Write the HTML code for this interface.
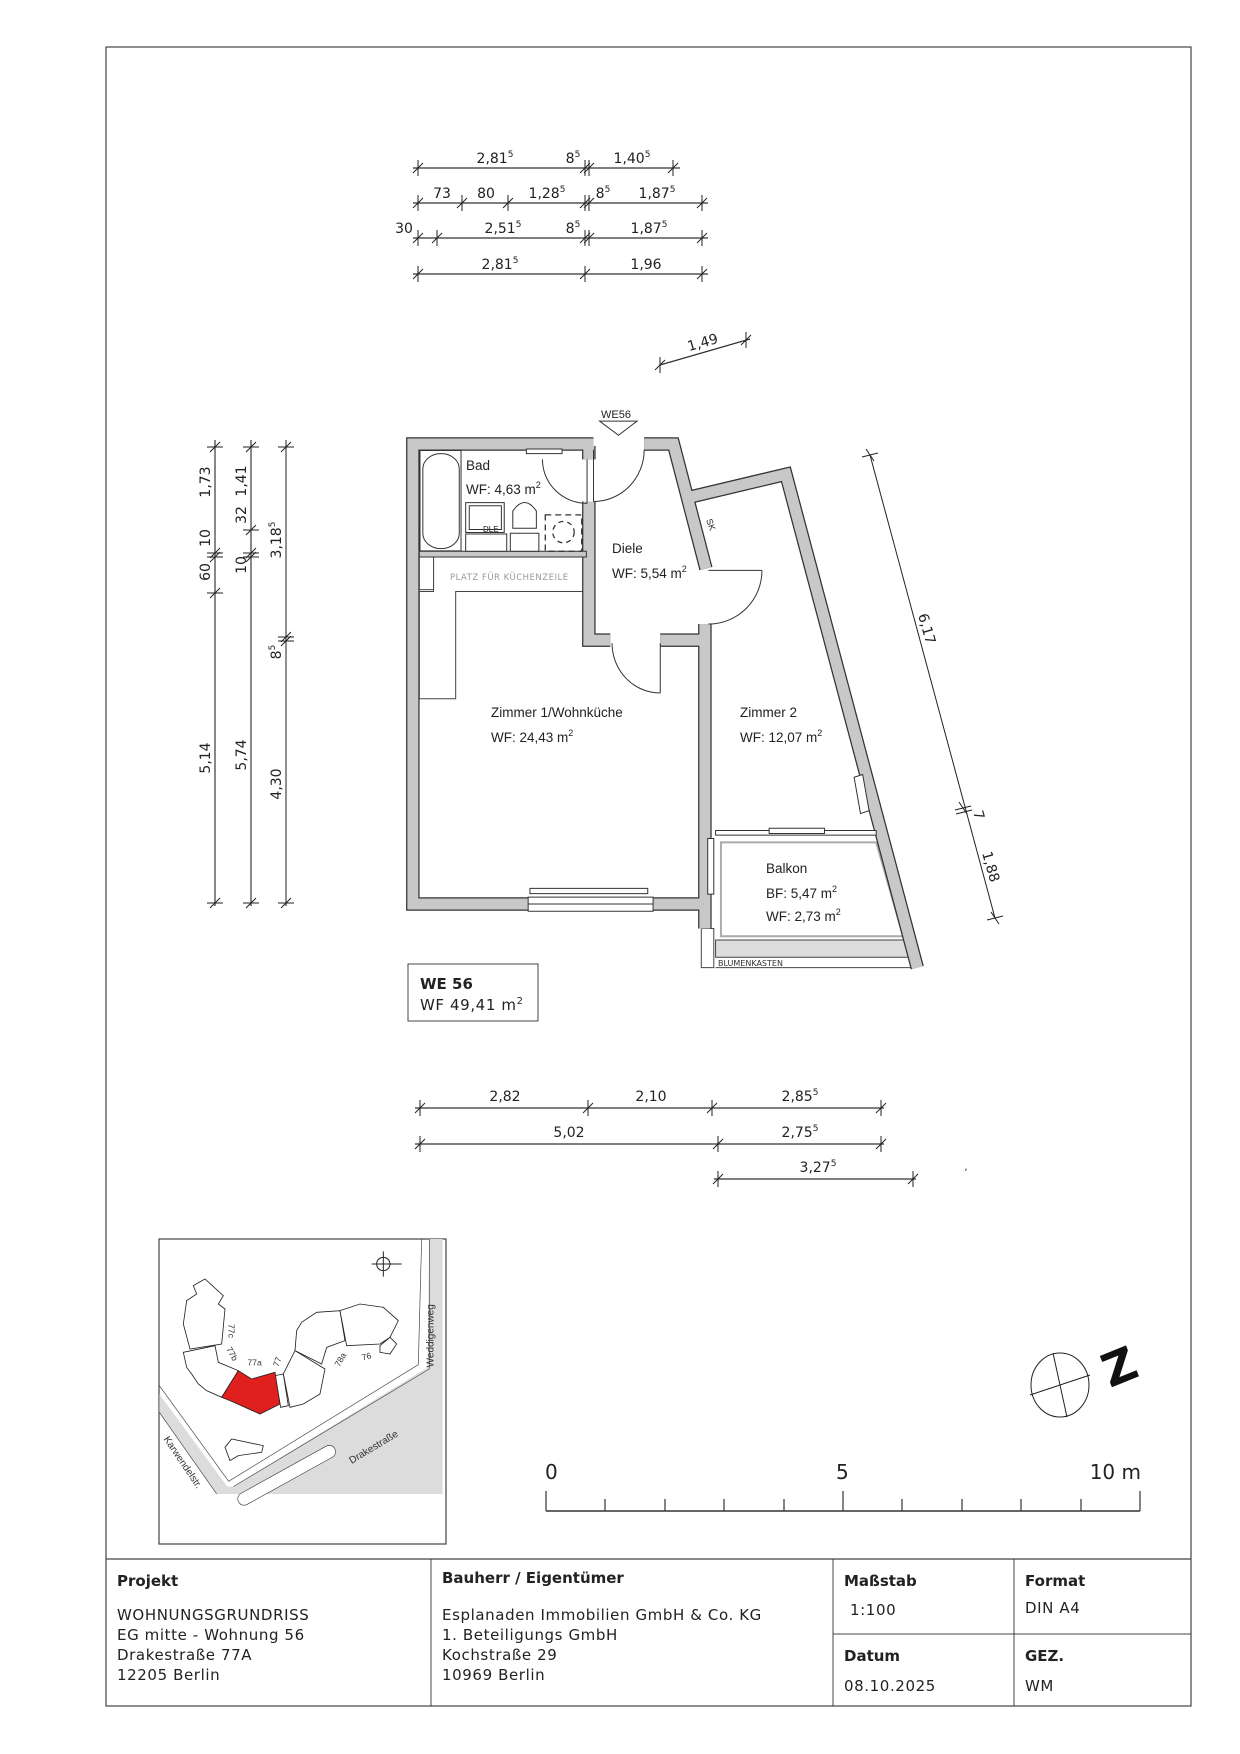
<!DOCTYPE html>
<html><head><meta charset="utf-8"><style>
html,body{margin:0;padding:0;background:#fff}
svg{display:block}
.d{font-family:"DejaVu Sans","Liberation Sans",sans-serif;font-size:14px;fill:#222}
.p{font-family:"Liberation Sans",sans-serif;font-size:13.5px;fill:#222}
.t{font-family:"DejaVu Sans","Liberation Sans",sans-serif;font-size:15px;fill:#222;letter-spacing:0.6px}
.tb{font-family:"DejaVu Sans","Liberation Sans",sans-serif;font-size:15px;font-weight:bold;fill:#222}
</style></head><body>
<svg width="1240" height="1754" viewBox="0 0 1240 1754" xmlns="http://www.w3.org/2000/svg">
<defs>
<g id="th" stroke="#222" stroke-width="1"><line x1="0" y1="-8" x2="0" y2="8"/><line x1="-5" y1="5" x2="5" y2="-5"/></g>
<g id="tv" stroke="#222" stroke-width="1"><line x1="-8" y1="0" x2="8" y2="0"/><line x1="-5" y1="5" x2="5" y2="-5"/></g>
</defs>

<rect x="106" y="47" width="1085" height="1659" fill="none" stroke="#444" stroke-width="1.2"/>
<line x1="106" y1="1559" x2="1191" y2="1559" stroke="#444" stroke-width="1.2"/>
<line x1="431" y1="1559" x2="431" y2="1706" stroke="#444"/>
<line x1="833" y1="1559" x2="833" y2="1706" stroke="#444"/>
<line x1="1014" y1="1559" x2="1014" y2="1706" stroke="#444"/>
<line x1="833" y1="1634" x2="1191" y2="1634" stroke="#444"/>

<text class="tb" x="117" y="1586">Projekt</text>
<text class="t" x="117" y="1620">WOHNUNGSGRUNDRISS</text>
<text class="t" x="117" y="1640">EG mitte - Wohnung 56</text>
<text class="t" x="117" y="1660">Drakestraße 77A</text>
<text class="t" x="117" y="1680">12205 Berlin</text>
<text class="tb" x="442" y="1583">Bauherr / Eigentümer</text>
<text class="t" x="442" y="1620">Esplanaden Immobilien GmbH &amp; Co. KG</text>
<text class="t" x="442" y="1640">1. Beteiligungs GmbH</text>
<text class="t" x="442" y="1660">Kochstraße 29</text>
<text class="t" x="442" y="1680">10969 Berlin</text>
<text class="tb" x="844" y="1586">Maßstab</text>
<text class="t" x="850" y="1615">1:100</text>
<text class="tb" x="1025" y="1586">Format</text>
<text class="t" x="1025" y="1613">DIN A4</text>
<text class="tb" x="844" y="1661">Datum</text>
<text class="t" x="844" y="1691">08.10.2025</text>
<text class="tb" x="1025" y="1661">GEZ.</text>
<text class="t" x="1025" y="1691">WM</text>

<g stroke="#333" stroke-width="1.2">
<line x1="413" y1="168" x2="680" y2="168"/>
<line x1="413" y1="203" x2="708" y2="203"/>
<line x1="413" y1="238" x2="708" y2="238"/>
<line x1="413" y1="274" x2="708" y2="274"/>
<line x1="660" y1="365" x2="750" y2="339"/>
</g>
<use href="#th" x="418" y="168"/><use href="#th" x="585" y="168"/><use href="#th" x="589" y="168"/><use href="#th" x="673" y="168"/>
<use href="#th" x="418" y="203"/><use href="#th" x="462" y="203"/><use href="#th" x="508" y="203"/><use href="#th" x="585" y="203"/><use href="#th" x="589" y="203"/><use href="#th" x="702" y="203"/>
<use href="#th" x="418" y="238"/><use href="#th" x="437" y="238"/><use href="#th" x="585" y="238"/><use href="#th" x="589" y="238"/><use href="#th" x="702" y="238"/>
<use href="#th" x="418" y="274"/><use href="#th" x="585" y="274"/><use href="#th" x="702" y="274"/>
<use href="#th" x="660" y="365"/><use href="#th" x="746" y="340"/>
<g class="d" text-anchor="middle" font-size="15">
<text x="495" y="163">2,81<tspan font-size="9" dy="-6">5</tspan></text>
<text x="573" y="163">8<tspan font-size="9" dy="-6">5</tspan></text>
<text x="632" y="163">1,40<tspan font-size="9" dy="-6">5</tspan></text>
<text x="442" y="198">73</text>
<text x="486" y="198">80</text>
<text x="547" y="198">1,28<tspan font-size="9" dy="-6">5</tspan></text>
<text x="603" y="198">8<tspan font-size="9" dy="-6">5</tspan></text>
<text x="657" y="198">1,87<tspan font-size="9" dy="-6">5</tspan></text>
<text x="404" y="233">30</text>
<text x="503" y="233">2,51<tspan font-size="9" dy="-6">5</tspan></text>
<text x="573" y="233">8<tspan font-size="9" dy="-6">5</tspan></text>
<text x="649" y="233">1,87<tspan font-size="9" dy="-6">5</tspan></text>
<text x="500" y="269">2,81<tspan font-size="9" dy="-6">5</tspan></text>
<text x="646" y="269">1,96</text>
<text x="0" y="0" transform="translate(704,347) rotate(-16)">1,49</text>
</g>

<g stroke="#555" stroke-width="1.4">
<line x1="215" y1="440" x2="215" y2="906"/>
<line x1="251" y1="440" x2="251" y2="906"/>
<line x1="286" y1="440" x2="286" y2="906" stroke="#222" stroke-width="1"/>
</g>
<use href="#tv" x="215" y="447"/><use href="#tv" x="215" y="553"/><use href="#tv" x="215" y="557"/><use href="#tv" x="215" y="593"/><use href="#tv" x="215" y="903"/>
<use href="#tv" x="251" y="447"/><use href="#tv" x="251" y="530"/><use href="#tv" x="251" y="553"/><use href="#tv" x="251" y="557"/><use href="#tv" x="251" y="903"/>
<use href="#tv" x="286" y="447"/><use href="#tv" x="286" y="637"/><use href="#tv" x="286" y="641"/><use href="#tv" x="286" y="903"/>
<g class="d" text-anchor="middle" font-size="15">
<text transform="translate(210,482) rotate(-90)">1,73</text>
<text transform="translate(210,538) rotate(-90)">10</text>
<text transform="translate(210,572) rotate(-90)">60</text>
<text transform="translate(210,758) rotate(-90)">5,14</text>
<text transform="translate(246,481) rotate(-90)">1,41</text>
<text transform="translate(246,515) rotate(-90)">32</text>
<text transform="translate(246,565) rotate(-90)">10</text>
<text transform="translate(246,755) rotate(-90)">5,74</text>
<text transform="translate(281,540) rotate(-90)">3,18<tspan font-size="9" dy="-6">5</tspan></text>
<text transform="translate(281,652) rotate(-90)">8<tspan font-size="9" dy="-6">5</tspan></text>
<text transform="translate(281,784) rotate(-90)">4,30</text>
</g>

<line x1="870" y1="455" x2="995" y2="918" stroke="#222" stroke-width="1"/>
<g stroke="#222" stroke-width="1">
<line x1="862" y1="457" x2="878" y2="453"/><line x1="866" y1="449" x2="874" y2="461"/>
<line x1="955" y1="810" x2="971" y2="806"/><line x1="956" y1="814" x2="972" y2="810"/><line x1="959" y1="802" x2="967" y2="814"/>
<line x1="987" y1="920" x2="1003" y2="916"/><line x1="991" y1="912" x2="999" y2="924"/>
</g>
<g class="d" font-size="15"><text transform="translate(918,615) rotate(74)">6,17</text>
<text transform="translate(973,812) rotate(74)">7</text>
<text transform="translate(982,853) rotate(74)">1,88</text></g>

<g transform="matrix(0.357,0,0,0.383,380,400)" fill="none">
 <polygon points="935,1135 1390,1135 1485,1410 935,1410" fill="#fff"/>
 <polygon points="955,1155 1390,1155 1465,1400 955,1400" stroke="#aaa" stroke-width="2" vector-effect="non-scaling-stroke"/>
 <polygon points="940,1410 1480,1410 1494,1455 940,1455" fill="#ddd" stroke="#444" stroke-width="1" vector-effect="non-scaling-stroke"/>
 <line x1="940" y1="1482" x2="1500" y2="1482" stroke="#444" stroke-width="1" vector-effect="non-scaling-stroke"/>
 <rect x="900" y="1380" width="35" height="102" fill="#fff" stroke="#444" stroke-width="1" vector-effect="non-scaling-stroke"/>
 <polygon points="150,410 575,410 575,500 212,500 212,780 110,780 110,500 150,500" fill="#fff" stroke="#444" stroke-width="1" vector-effect="non-scaling-stroke"/>
 <rect x="110" y="410" width="40" height="85" fill="#fff" stroke="#444" stroke-width="1" vector-effect="non-scaling-stroke"/>
 <g stroke="#333" stroke-width="13.5" stroke-linejoin="miter">
  <polyline points="598,115 92,115 92,1316 918,1316" vector-effect="non-scaling-stroke"/>
  <polyline points="910,585 910,1380" vector-effect="non-scaling-stroke"/>
  <polyline points="740,115 822,115 913,440" vector-effect="non-scaling-stroke"/>
  <polyline points="861,255 1137,194 1505,1482" vector-effect="non-scaling-stroke"/>
  <polyline points="585,265 585,627 645,627" vector-effect="non-scaling-stroke"/>
  <polyline points="785,627 910,627" vector-effect="non-scaling-stroke"/>
  <polyline points="585,120 585,155" vector-effect="non-scaling-stroke"/>
 </g>
 <g stroke="#c8c8c8" stroke-width="11" stroke-linejoin="miter">
  <polyline points="598,115 92,115 92,1316 918,1316" vector-effect="non-scaling-stroke"/>
  <polyline points="910,585 910,1380" vector-effect="non-scaling-stroke"/>
  <polyline points="740,115 822,115 913,440" vector-effect="non-scaling-stroke"/>
  <polyline points="861,255 1137,194 1505,1482" vector-effect="non-scaling-stroke"/>
  <polyline points="585,265 585,627 645,627" vector-effect="non-scaling-stroke"/>
  <polyline points="785,627 910,627" vector-effect="non-scaling-stroke"/>
  <polyline points="585,120 585,155" vector-effect="non-scaling-stroke"/>
 </g>
 <rect x="110" y="395" width="468" height="15" fill="#c8c8c8" stroke="#333" stroke-width="1" vector-effect="non-scaling-stroke"/>
 <g stroke="#333" stroke-width="1" fill="#fff">
  <rect x="415" y="1298" width="350" height="37" vector-effect="non-scaling-stroke"/>
  <line x1="415" y1="1316" x2="765" y2="1316" vector-effect="non-scaling-stroke"/>
  <rect x="420" y="1275" width="330" height="14" vector-effect="non-scaling-stroke"/>
  <rect x="918" y="1145" width="17" height="145" vector-effect="non-scaling-stroke"/>
  <rect x="940" y="1124" width="450" height="12" vector-effect="non-scaling-stroke"/>
  <rect x="1090" y="1118" width="155" height="14" vector-effect="non-scaling-stroke"/>
  <rect x="410" y="128" width="100" height="12" vector-effect="non-scaling-stroke"/>
  <polygon points="1328,985 1352,978 1370,1072 1346,1080" vector-effect="non-scaling-stroke"/>
  <rect x="112" y="132" width="115" height="262" vector-effect="non-scaling-stroke"/>
  <rect x="120" y="140" width="102" height="248" rx="50" ry="40" vector-effect="non-scaling-stroke"/>
  <rect x="240" y="268" width="108" height="78" vector-effect="non-scaling-stroke"/>
  <rect x="250" y="276" width="90" height="62" vector-effect="non-scaling-stroke"/>
  <rect x="240" y="350" width="115" height="45" vector-effect="non-scaling-stroke"/>
  <rect x="365" y="348" width="80" height="47" vector-effect="non-scaling-stroke"/>
  <path d="M372,335 L372,290 Q405,245 438,290 L438,335 Z" vector-effect="non-scaling-stroke"/>
 </g>
 <rect x="463" y="300" width="102" height="95" fill="none" stroke="#333" stroke-width="1.3" stroke-dasharray="6 4" vector-effect="non-scaling-stroke"/>
 <ellipse cx="514" cy="345" rx="30" ry="28" fill="none" stroke="#333" stroke-width="1.3" stroke-dasharray="5 4" vector-effect="non-scaling-stroke"/>
 <g stroke="#333" stroke-width="1">
  <line x1="598" y1="130" x2="598" y2="265" vector-effect="non-scaling-stroke"/>
  <path d="M598,265 A142,135 0 0 0 740,130" vector-effect="non-scaling-stroke"/>
  <line x1="580" y1="155" x2="580" y2="270" vector-effect="non-scaling-stroke"/>
  <path d="M455,155 A125,115 0 0 0 580,270" vector-effect="non-scaling-stroke"/>
  <line x1="920" y1="445" x2="1070" y2="445" vector-effect="non-scaling-stroke"/>
  <path d="M1070,445 A150,140 0 0 1 920,585" vector-effect="non-scaling-stroke"/>
  <line x1="785" y1="635" x2="785" y2="765" vector-effect="non-scaling-stroke"/>
  <path d="M650,635 A135,130 0 0 0 785,765" vector-effect="non-scaling-stroke"/>
  <path d="M615,55 L720,55 L668,92 Z" vector-effect="non-scaling-stroke"/>
 </g>
</g>
<g class="p">
<text x="466" y="470">Bad</text>
<text x="466" y="494">WF: 4,63 m<tspan font-size="9" dy="-6">2</tspan></text>
<text x="612" y="553">Diele</text>
<text x="612" y="578">WF: 5,54 m<tspan font-size="9" dy="-6">2</tspan></text>
<text x="491" y="717">Zimmer 1/Wohnküche</text>
<text x="491" y="742">WF: 24,43 m<tspan font-size="9" dy="-6">2</tspan></text>
<text x="740" y="717">Zimmer 2</text>
<text x="740" y="742">WF: 12,07 m<tspan font-size="9" dy="-6">2</tspan></text>
<text x="766" y="873">Balkon</text>
<text x="766" y="898">BF: 5,47 m<tspan font-size="9" dy="-6">2</tspan></text>
<text x="766" y="921">WF: 2,73 m<tspan font-size="9" dy="-6">2</tspan></text>
<text x="601" y="418" font-size="11">WE56</text>
<text x="483" y="532" font-size="8">DLE</text>
<text transform="translate(706,520) rotate(70)" font-size="9">SK</text>
</g>
<text x="450" y="580" font-family="DejaVu Sans,sans-serif" font-size="8.5" fill="#999" letter-spacing="0.5">PLATZ FÜR KÜCHENZEILE</text>
<text x="718" y="966" font-family="DejaVu Sans,sans-serif" font-size="8" fill="#333">BLUMENKASTEN</text>

<rect x="408" y="964" width="130" height="57" fill="none" stroke="#444"/>
<text class="tb" x="420" y="989" font-size="15">WE 56</text>
<text class="t" x="420" y="1010">WF 49,41 m<tspan font-size="10" dy="-6">2</tspan></text>

<g stroke="#333" stroke-width="1.2">
<line x1="415" y1="1108" x2="884" y2="1108"/>
<line x1="415" y1="1144" x2="884" y2="1144"/>
<line x1="714" y1="1179" x2="916" y2="1179"/>
</g>
<use href="#th" x="420" y="1108"/><use href="#th" x="588" y="1108"/><use href="#th" x="712" y="1108"/><use href="#th" x="881" y="1108"/>
<use href="#th" x="420" y="1144"/><use href="#th" x="718" y="1144"/><use href="#th" x="881" y="1144"/>
<use href="#th" x="718" y="1179"/><use href="#th" x="913" y="1179"/>
<g class="d" text-anchor="middle" font-size="15">
<text x="505" y="1101">2,82</text>
<text x="651" y="1101">2,10</text>
<text x="800" y="1101">2,85<tspan font-size="9" dy="-6">5</tspan></text>
<text x="569" y="1137">5,02</text>
<text x="800" y="1137">2,75<tspan font-size="9" dy="-6">5</tspan></text>
<text x="818" y="1172">3,27<tspan font-size="9" dy="-6">5</tspan></text>
<text x="966" y="1170" font-size="10">,</text>
</g>

<rect x="159" y="1239" width="287" height="305" fill="#fff" stroke="#444" stroke-width="1.2"/>
<g transform="translate(150,1234) scale(0.3333)">
 <polygon points="28,535 200,780 878,780 878,15 838,15 833,400 250,758 232,758 28,480" fill="#dcdcdc"/>
 <polyline points="28,455 236,742 805,392 815,15" fill="none" stroke="#444" stroke-width="2"/>
 <polyline points="28,535 200,780" fill="none" stroke="#444" stroke-width="2"/>
 <polyline points="250,758 838,405 838,15" fill="none" stroke="#444" stroke-width="2"/>
 <rect x="245" y="705" width="330" height="38" rx="19" transform="rotate(-29 410 724)" fill="#fff" stroke="#444" stroke-width="2"/>
 <g fill="#fff" stroke="#222" stroke-width="2.5">
  <polygon points="130,155 165,135 220,185 205,210 225,225 215,330 120,345 100,270 110,200 140,180"/>
  <polygon points="100,355 195,335 205,385 265,410 215,490 170,470 145,450 125,420 110,400"/>
  <polygon points="400,420 435,350 525,405 510,480 460,510 420,520"/>
  <polygon points="435,350 440,290 455,265 500,235 570,230 585,320 530,340 515,390"/>
  <polygon points="570,230 630,210 700,220 745,260 720,310 690,330 590,335"/>
  <polygon points="690,335 720,310 740,330 720,360 690,355"/>
  <polygon points="225,640 245,615 340,635 335,655 265,665 240,680"/>
  <polygon points="375,425 400,420 415,515 392,520"/>
 </g>
 <polygon points="215,490 265,410 305,435 375,415 390,510 330,540 240,500" fill="#e0201e" stroke="#222" stroke-width="2.5"/>
 <g fill="#333" font-family="Liberation Sans,sans-serif" font-size="26">
  <text transform="translate(235,270) rotate(90)">77c</text>
  <text transform="translate(228,345) rotate(60)">77b</text>
  <text x="292" y="395">77a</text>
  <text transform="translate(385,400) rotate(-70)">77</text>
  <text transform="translate(568,400) rotate(-60)">78a</text>
  <text transform="translate(638,380) rotate(-15)">76</text>
  <text transform="translate(850,400) rotate(-90)" font-size="30">Weddigenweg</text>
  <text transform="translate(605,690) rotate(-31)" font-size="30">Drakestraße</text>
  <text transform="translate(40,615) rotate(56)" font-size="30">Karwendelstr.</text>
 </g>
 <g stroke="#222" stroke-width="3" fill="none">
  <circle cx="700" cy="90" r="20"/>
  <line x1="665" y1="90" x2="755" y2="90"/>
  <line x1="700" y1="52" x2="700" y2="128"/>
 </g>
</g>

<g stroke="#333" stroke-width="1.2">
<line x1="546" y1="1511" x2="1140" y2="1511" stroke-width="1.6"/>
<line x1="546" y1="1491" x2="546" y2="1511"/><line x1="605" y1="1499" x2="605" y2="1511"/>
<line x1="665" y1="1499" x2="665" y2="1511"/><line x1="724" y1="1499" x2="724" y2="1511"/>
<line x1="784" y1="1499" x2="784" y2="1511"/><line x1="843" y1="1491" x2="843" y2="1511"/>
<line x1="902" y1="1499" x2="902" y2="1511"/><line x1="962" y1="1499" x2="962" y2="1511"/>
<line x1="1021" y1="1499" x2="1021" y2="1511"/><line x1="1081" y1="1499" x2="1081" y2="1511"/>
<line x1="1140" y1="1491" x2="1140" y2="1511"/>
</g>
<g font-family="DejaVu Sans,sans-serif" font-size="20" fill="#222">
<text x="545" y="1479">0</text>
<text x="836" y="1479">5</text>
<text x="1141" y="1479" text-anchor="end">10 m</text>
</g>

<g stroke="#222" stroke-width="1" fill="none">
<ellipse cx="1060" cy="1385" rx="29" ry="32"/>
<line x1="1053" y1="1353" x2="1067" y2="1417"/>
<line x1="1030" y1="1395" x2="1090" y2="1375"/>
</g>
<text transform="translate(1110,1388) rotate(-22)" font-family="DejaVu Sans,sans-serif" font-size="46" font-weight="bold" fill="#111">Z</text>
</svg>
</body></html>
